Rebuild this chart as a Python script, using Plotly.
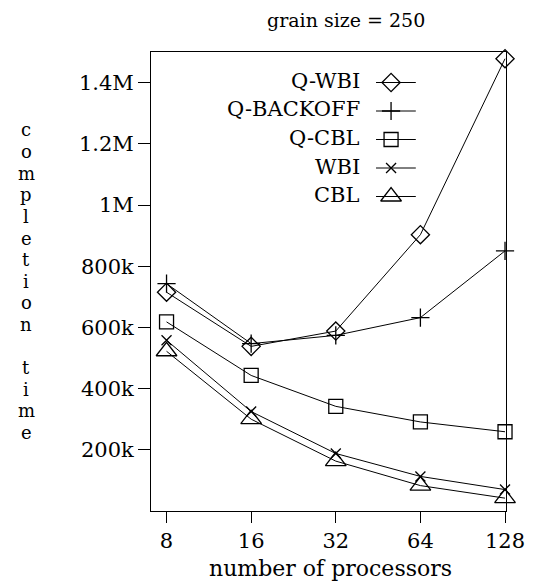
import plotly.graph_objects as go

# ---- data ----
procs = [8, 16, 32, 64, 128]
q_wbi = [715000, 538000, 588000, 903000, 1478000]
q_backoff = [743000, 547000, 574000, 632000, 850000]
q_cbl = [618000, 443000, 342000, 291000, 259000]
wbi = [558000, 325000, 188000, 113000, 70000]
cbl = [522000, 300000, 163000, 83000, 42000]

series_names = ["Q-WBI", "Q-BACKOFF", "Q-CBL", "WBI", "CBL"]
series_vals = [q_wbi, q_backoff, q_cbl, wbi, cbl]
symbols = ["diamond-open", "cross-thin-open", "square-open", "x-thin-open", "triangle-up-open"]
sizes = [14, 13, 14, 10, 18]

y_tickvals = [200000, 400000, 600000, 800000, 1000000, 1200000, 1400000]
y_ticktext = ["200k", "400k", "600k", "800k", "1M", "1.2M", "1.4M"]
x_ticktext = ["8", "16", "32", "64", "128"]

title_text = "grain size = 250"
x_title = "number of processors"
y_title = "completion time"

# ---- layout geometry (pixels) ----
W, H = 537, 586
L, R, T, B = 151, 20, 52, 75
PW = W - L - R
PH = H - T - B
FONT = "DejaVu Serif"
FS = 21


def px_x(p):
    return (p - L) / PW


def px_y(p):
    return (H - B - p) / PH


fig = go.Figure()

for name, vals, sym, sz in zip(series_names, series_vals, symbols, sizes):
    fig.add_trace(go.Scatter(
        x=procs, y=vals, mode="lines+markers", name=name,
        line=dict(color="black", width=1),
        marker=dict(symbol=sym, size=sz, color="black",
                    line=dict(color="black", width=1.3)),
        showlegend=False, cliponaxis=False,
    ))

# ---- custom legend (text, then sample line with marker) ----
row0, row_step = 82.5, 28.5
for i, (name, sym, sz) in enumerate(zip(series_names, symbols, sizes)):
    ry = row0 + i * row_step
    fig.add_trace(go.Scatter(
        x=[383, 424], y=[ry, ry], mode="lines", xaxis="x2", yaxis="y2",
        line=dict(color="black", width=1), showlegend=False, hoverinfo="skip",
    ))
    fig.add_trace(go.Scatter(
        x=[398.5], y=[ry], mode="markers", xaxis="x2", yaxis="y2",
        marker=dict(symbol=sym, size=sz, color="black",
                    line=dict(color="black", width=1.3)),
        showlegend=False, hoverinfo="skip",
    ))
    fig.add_annotation(
        x=px_x(369), y=px_y(ry - 1.5), xref="paper", yref="paper",
        text=name, showarrow=False, xanchor="right", yanchor="middle",
        font=dict(family=FONT, size=FS, color="black"),
    )

# ---- titles ----
fig.add_annotation(
    x=px_x(352), y=px_y(20), xref="paper", yref="paper", text=title_text,
    showarrow=False, xanchor="center", yanchor="middle",
    font=dict(family=FONT, size=19, color="black"),
)
fig.add_annotation(
    x=px_x(336), y=px_y(568), xref="paper", yref="paper", text=x_title,
    showarrow=False, xanchor="center", yanchor="middle",
    font=dict(family=FONT, size=22, color="black"),
)
# vertical stacked y title
letters = list(y_title)
for i, ch in enumerate(letters):
    if ch == " ":
        continue
    fig.add_annotation(
        x=px_x(22.5), y=px_y(130 + i * 21.6), xref="paper", yref="paper",
        text=ch, showarrow=False, xanchor="center", yanchor="middle",
        font=dict(family=FONT, size=18, color="black"),
    )

axis_common = dict(
    showline=True, linecolor="black", linewidth=1, mirror=True,
    ticks="outside", tickcolor="black", tickwidth=1, showgrid=False,
    zeroline=False, tickfont=dict(family=FONT, size=FS, color="black"),
)

fig.update_layout(
    width=W, height=H,
    margin=dict(l=L, r=R, t=T, b=B),
    paper_bgcolor="white", plot_bgcolor="white",
    xaxis=dict(type="log", range=[0.8478, 2.1107], tickvals=procs,
               ticktext=x_ticktext, ticklen=11, **axis_common),
    yaxis=dict(range=[0, 1500000], tickvals=y_tickvals, ticktext=y_ticktext,
               ticklen=12, **axis_common),
    xaxis2=dict(overlaying="x", range=[L, W - R], visible=False, fixedrange=True),
    yaxis2=dict(overlaying="y", range=[H - B, T], visible=False, fixedrange=True),
    showlegend=False,
)

fig.write_html("out.html")
